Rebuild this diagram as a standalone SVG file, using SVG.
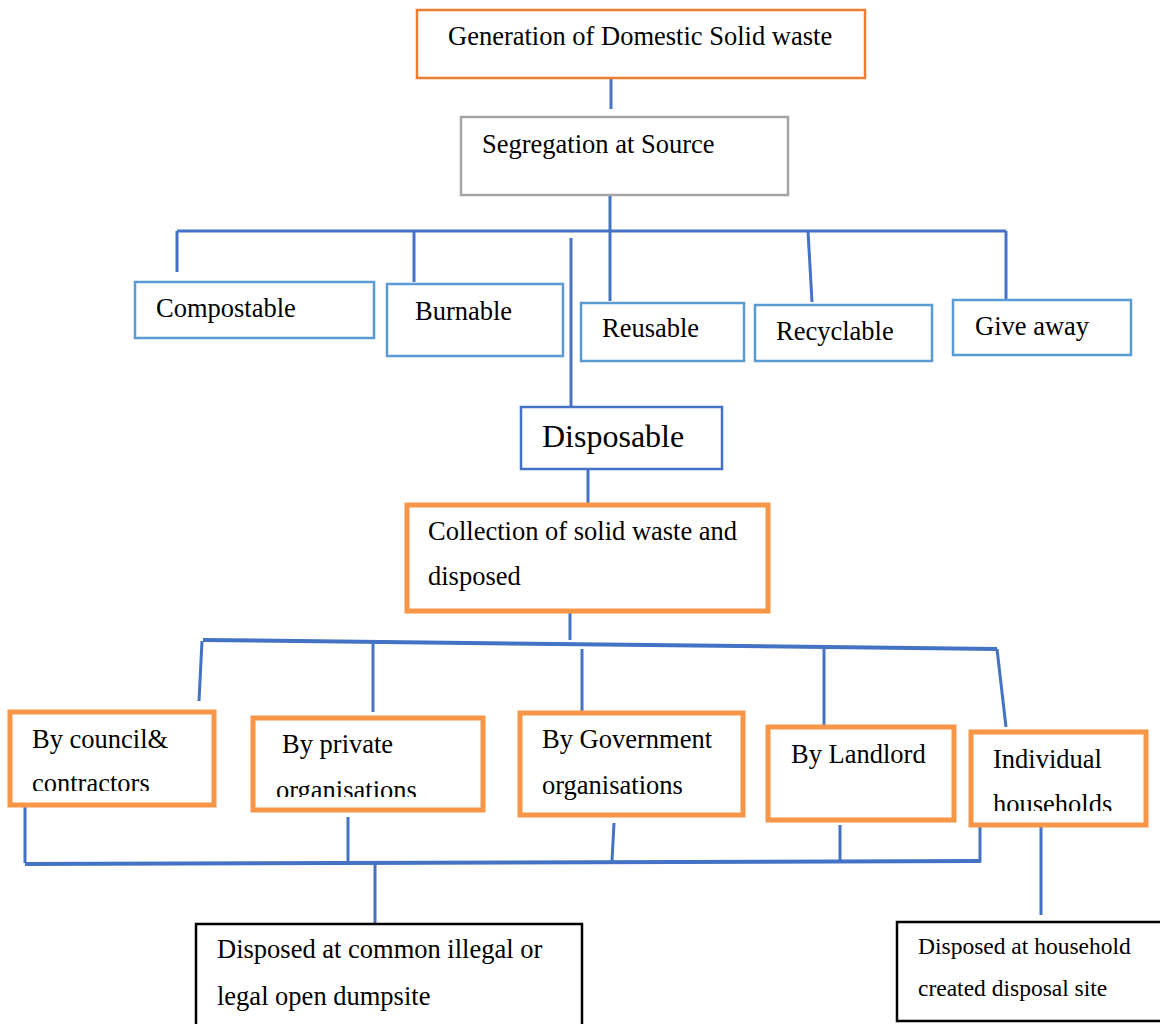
<svg xmlns="http://www.w3.org/2000/svg" width="1160" height="1024" viewBox="0 0 1160 1024">
<style>
text{font-family:"Liberation Serif","Times New Roman",serif;font-size:26.5px;fill:#000}
.orange1{fill:#fff;stroke:#ED7D31;stroke-width:2.5}
.gray{fill:#fff;stroke:#A5A5A5;stroke-width:2.5}
.lb{fill:#fff;stroke:#5B9BD5;stroke-width:2.5}
.db{fill:#fff;stroke:#4472C4;stroke-width:2.5}
.or{fill:#fff;stroke:#F79646;stroke-width:5}
.blk{fill:#fff;stroke:#000;stroke-width:2.5}
.c{fill:none;stroke:#4472C4;stroke-width:3}
.ct{fill:none;stroke:#4472C4;stroke-width:4}
</style>
<defs>
<clipPath id="cl1"><rect x="0" y="700" width="220" height="91"/></clipPath>
<clipPath id="cl2"><rect x="240" y="700" width="250" height="97"/></clipPath>
<clipPath id="cl3"><rect x="960" y="700" width="200" height="111"/></clipPath>
</defs>
<rect width="1160" height="1024" fill="#fff"/>
<g id="connectors">
<path class="c" d="M611,78 V109"/>
<path class="c" d="M610,195 V231"/>
<path class="c" d="M177,231 H1006"/>
<path class="c" d="M177,231 V272"/>
<path class="c" d="M414,231 V282"/>
<path class="c" d="M610,231 V301"/>
<path class="c" d="M808,231 L812,302"/>
<path class="c" d="M1006,231 V300"/>
<path class="c" d="M571,238 V407"/>
<path class="c" d="M588,470 V503"/>
<path class="c" d="M570,612 V640"/>
<path class="ct" d="M203,640 L997,649"/>
<path class="c" d="M202,641 L199,701"/>
<path class="c" d="M373,642 V712"/>
<path class="c" d="M582,649 V711"/>
<path class="c" d="M824,648 V726"/>
<path class="c" d="M997,649 L1006,727"/>
<path class="c" d="M25,807 V863"/>
<path class="c" d="M348,817 V862"/>
<path class="c" d="M614,823 L612,861"/>
<path class="c" d="M840,825 V861"/>
<path class="c" d="M980,826 V862"/>
<path class="ct" d="M25,864 L981,861"/>
<path class="c" d="M375,863 V923"/>
<path class="c" d="M1041,826 V915"/>
</g>
<g id="n-generation"><rect class="orange1" x="417" y="10" width="448" height="68"/><text x="448" y="45">Generation of Domestic Solid waste</text></g>
<g id="n-segregation"><rect class="gray" x="461" y="117" width="327" height="78"/><text x="482" y="153">Segregation at Source</text></g>
<g id="n-compostable"><rect class="lb" x="135" y="282" width="239" height="56"/><text x="156" y="317">Compostable</text></g>
<g id="n-burnable"><rect class="lb" x="387" y="284" width="176" height="72"/><text x="415" y="320">Burnable</text></g>
<g id="n-reusable"><rect class="lb" x="581" y="303" width="163" height="58"/><text x="602" y="337">Reusable</text></g>
<g id="n-recyclable"><rect class="lb" x="755" y="305" width="177" height="56"/><text x="776" y="340">Recyclable</text></g>
<g id="n-giveaway"><rect class="lb" x="953" y="300" width="178" height="55"/><text x="975" y="335">Give away</text></g>
<g id="n-disposable"><rect class="db" x="521" y="407" width="201" height="62"/><text x="542" y="447" style="font-size:32px">Disposable</text></g>
<g id="n-collection"><rect class="or" x="407" y="505" width="361" height="106"/><text x="428" y="540">Collection of solid waste and</text><text x="428" y="585">disposed</text></g>
<g id="n-council"><rect class="or" x="10" y="712" width="204" height="93"/><text x="32" y="748">By council&amp;</text><text x="32" y="792" clip-path="url(#cl1)">contractors</text></g>
<g id="n-private"><rect class="or" x="253" y="718" width="230" height="92"/><text x="282" y="753">By private</text><text x="276" y="799" clip-path="url(#cl2)">organisations</text></g>
<g id="n-government"><rect class="or" x="520" y="713" width="223" height="102"/><text x="542" y="748">By Government</text><text x="542" y="794">organisations</text></g>
<g id="n-landlord"><rect class="or" x="768" y="727" width="186" height="93"/><text x="791" y="763">By Landlord</text></g>
<g id="n-individual"><rect class="or" x="971" y="732" width="175" height="93"/><text x="993" y="768">Individual</text><text x="993" y="813" clip-path="url(#cl3)">households</text></g>
<g id="n-dumpsite"><rect class="blk" x="196" y="924" width="386" height="110"/><text x="217" y="958">Disposed at common illegal or</text><text x="217" y="1005">legal open dumpsite</text></g>
<g id="n-household-site"><rect class="blk" x="897" y="922" width="270" height="99"/><text x="918" y="954" style="font-size:23.5px">Disposed at household</text><text x="918" y="996" style="font-size:23.5px">created disposal site</text></g>
</svg>
